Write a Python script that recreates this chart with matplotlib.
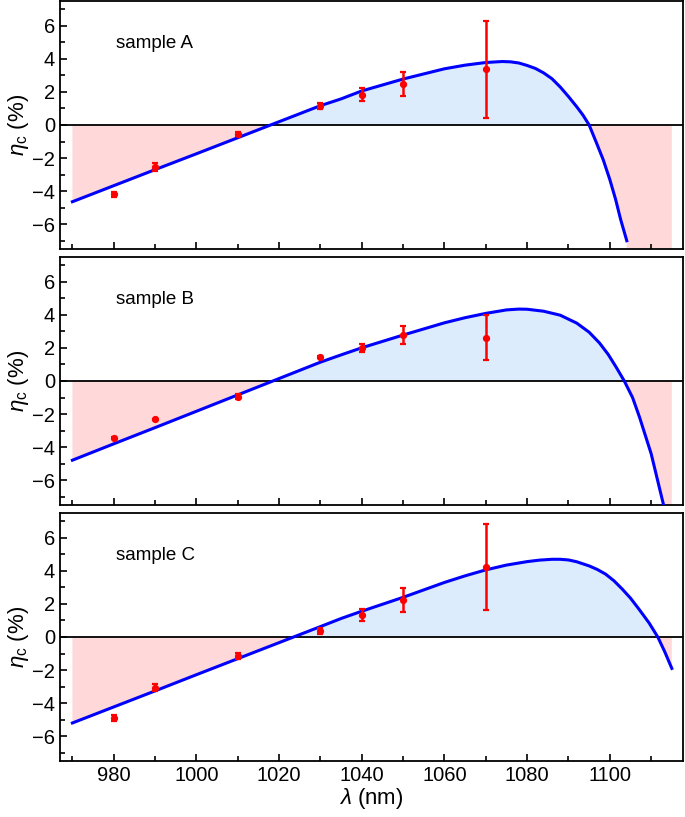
import numpy as np
import matplotlib
matplotlib.use("Agg")
import matplotlib.pyplot as plt
from matplotlib.ticker import MultipleLocator

plt.rcParams['font.family'] = ['Liberation Sans', 'DejaVu Sans']
plt.rcParams['mathtext.fontset'] = 'custom'
plt.rcParams['mathtext.rm'] = 'Liberation Sans'
plt.rcParams['mathtext.it'] = 'Liberation Sans:italic'

# measured points (same wavelengths for all samples)
wavelengths = [980, 990, 1010, 1030, 1040, 1050, 1070]

eta_A = [-4.18, -2.56, -0.52, 1.14, 1.84, 2.50, 3.38]
err_A = [0.15, 0.25, 0.12, 0.20, 0.40, 0.73, 2.94]
eta_B = [-3.42, -2.32, -0.95, 1.45, 2.01, 2.78, 2.62]
err_B = [0.05, 0.05, 0.15, 0.05, 0.24, 0.55, 1.35]
eta_C = [-4.90, -3.06, -1.14, 0.36, 1.34, 2.24, 4.24]
err_C = [0.20, 0.20, 0.20, 0.20, 0.35, 0.74, 2.62]

# fitted curves
fit_A_x = [970, 980, 990, 1000, 1010, 1020, 1030, 1035, 1040, 1050, 1060, 1065, 1070,
           1074, 1076, 1078, 1080, 1082, 1084, 1086, 1088, 1090, 1092, 1093.5, 1095,
           1096.8, 1098.4, 1100, 1101.4, 1102.6, 1104.1]
fit_A_y = [-4.64, -3.67, -2.70, -1.74, -0.77, 0.20, 1.17, 1.58, 2.06, 2.78, 3.40, 3.62, 3.78,
           3.84, 3.82, 3.75, 3.60, 3.42, 3.15, 2.80, 2.30, 1.72, 1.10, 0.60, 0.0,
           -1.1, -2.1, -3.3, -4.5, -5.7, -7.0]
fit_B_x = [970, 980, 990, 1000, 1010, 1020, 1030, 1035, 1040, 1050, 1060, 1065, 1070, 1075,
           1078, 1080, 1084, 1088, 1092, 1095, 1097.5, 1099.6, 1101.5, 1103.5, 1105.5,
           1107.2, 1110, 1113]
fit_B_y = [-4.79, -3.80, -2.82, -1.83, -0.84, 0.15, 1.14, 1.58, 2.01, 2.78, 3.52, 3.83, 4.09, 4.30,
           4.35, 4.34, 4.22, 3.98, 3.50, 2.95, 2.30, 1.61, 0.85, 0.0, -1.0,
           -2.2, -4.4, -7.5]
fit_C_x = [970, 980, 990, 1000, 1010, 1020, 1030, 1035, 1040, 1050, 1060, 1065, 1070, 1075,
           1080, 1083, 1086, 1088, 1090, 1092, 1095, 1097, 1099, 1101, 1103, 1105, 1107,
           1109.5, 1111.6, 1113.3, 1115]
fit_C_y = [-5.20, -4.23, -3.26, -2.28, -1.31, -0.34, 0.63, 1.12, 1.56, 2.40, 3.30, 3.70, 4.06, 4.35,
           4.56, 4.65, 4.70, 4.70, 4.66, 4.55, 4.30, 4.08, 3.80, 3.40, 2.90, 2.35, 1.70,
           0.85, 0.0, -0.9, -1.9]

samples = [
    ("sample A", eta_A, err_A, fit_A_x, fit_A_y),
    ("sample B", eta_B, err_B, fit_B_x, fit_B_y),
    ("sample C", eta_C, err_C, fit_C_x, fit_C_y),
]

X_MIN, X_MAX = 967, 1117.7
Y_MIN, Y_MAX = -7.5, 7.5
FILL_END = 1115
PINK = "#ffd9d9"
LIGHT_BLUE = "#dcecfc"

fig = plt.figure(figsize=(6.85, 8.17), dpi=100)

# panel positions in pixels (top, bottom)
panel_px = [(1, 249), (257, 505), (513, 761)]
W, H = 685, 817
left, right = 60, 683

axes = []
for top, bottom in panel_px:
    ax = fig.add_axes([left / W, 1 - bottom / H, (right - left) / W, (bottom - top) / H])
    axes.append(ax)

for ax, (name, eta, err, fx, fy) in zip(axes, samples):
    fx = np.array(fx, dtype=float)
    fy = np.array(fy, dtype=float)

    # shading area: curve, then continue along the bottom up to the fill end
    sx, sy = fx, fy
    if fx[-1] < FILL_END:
        sx = np.append(fx, [fx[-1] + 0.01, FILL_END])
        sy = np.append(fy, [Y_MIN, Y_MIN])
    sy = np.maximum(sy, Y_MIN)
    ax.fill_between(sx, 0, sy, where=sy >= 0, interpolate=True,
                    color=LIGHT_BLUE, lw=0, zorder=1)
    ax.fill_between(sx, 0, sy, where=sy <= 0, interpolate=True,
                    color=PINK, lw=0, zorder=1)

    ax.axhline(0, color="black", lw=1.3, zorder=2)
    ax.plot(fx, fy, color="#0000ff", lw=2.2, zorder=3)
    ax.errorbar(wavelengths, eta, yerr=err, fmt="o", color="#ff0000", ms=4.2,
                elinewidth=1.8, capsize=2.2, capthick=1.6, zorder=4)

    ax.text(980.5, 4.9, name, fontsize=13.5, va="center", ha="left")

    ax.set_xlim(X_MIN, X_MAX)
    ax.set_ylim(Y_MIN, Y_MAX)
    ax.xaxis.set_major_locator(MultipleLocator(20))
    ax.xaxis.set_minor_locator(MultipleLocator(10))
    ax.yaxis.set_major_locator(MultipleLocator(2))
    ax.yaxis.set_minor_locator(MultipleLocator(1))
    ax.tick_params(which="both", direction="in", top=False, right=False,
                   width=1.2, labelsize=14.5)
    ax.tick_params(which="major", length=5)
    ax.tick_params(which="minor", length=3.5)
    for sp in ax.spines.values():
        sp.set_linewidth(1.3)
    ax.set_ylabel(r"$\eta_{\rm c}$ (%)", fontsize=16, labelpad=1)

for ax in axes[:-1]:
    ax.tick_params(labelbottom=False)

axes[-1].set_xlabel(r"$\lambda$ (nm)", fontsize=16, labelpad=1)

fig.savefig("out.png", dpi=100)
